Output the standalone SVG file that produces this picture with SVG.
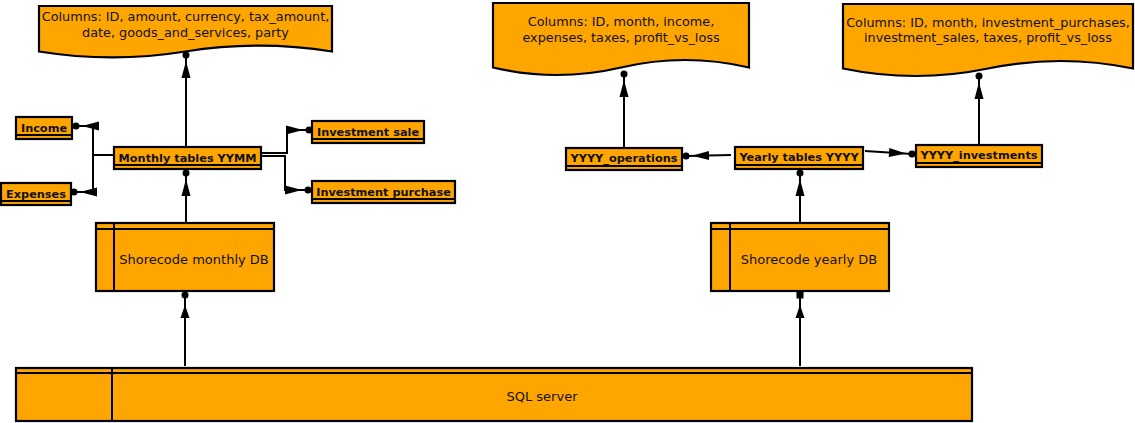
<svg xmlns="http://www.w3.org/2000/svg" width="1135" height="423" viewBox="0 0 1135 423">
<defs>
<style>
.box{fill:#FFA500;stroke:#000;stroke-width:2.2}
.ln{fill:none;stroke:#000;stroke-width:2}
.t{font-family:"DejaVu Sans","Liberation Sans",sans-serif;fill:#111;text-anchor:middle}
.doc{font-size:12.8px}
.ent{font-size:11.3px;font-weight:bold}
.db{font-size:13px}
.c{fill:none;stroke:#000;stroke-width:2}
</style>
<marker id="ad" viewBox="-30 -6 34 12" markerWidth="34" markerHeight="12" refX="0" refY="0" markerUnits="userSpaceOnUse" orient="auto" overflow="visible">
<circle cx="0" cy="0" r="3.5" fill="#000"/>
<polygon points="-6,0 -23,-4.5 -23,4.5" fill="#000"/>
</marker>
<marker id="ad2" viewBox="-30 -6 34 12" markerWidth="34" markerHeight="12" refX="0" refY="0" markerUnits="userSpaceOnUse" orient="auto" overflow="visible">
<circle cx="0" cy="0" r="3.5" fill="#000"/>
<polygon points="-10,0 -23,-4.5 -23,4.5" fill="#000"/>
</marker>
<marker id="as" viewBox="-30 -6 34 12" markerWidth="34" markerHeight="12" refX="0" refY="0" markerUnits="userSpaceOnUse" orient="auto" overflow="visible">
<rect x="-3.5" y="-3.5" width="7" height="7" fill="#000"/>
<polygon points="-10,0 -23,-4.5 -23,4.5" fill="#000"/>
</marker>
</defs>
<rect width="1135" height="423" fill="#fff"/>

<g id="connectors">
<path class="c" d="M186,147 V55" marker-end="url(#ad)"/>
<path class="c" d="M186,223 V173" marker-end="url(#ad)"/>
<path class="c" d="M185,366 V295" marker-end="url(#ad2)"/>
<path class="c" d="M114,155 H93 V126 H76" marker-end="url(#ad)"/>
<path class="c" d="M114,155 H93 V192 H74" marker-end="url(#ad)"/>
<path class="c" d="M261,153 H287 V130 H309" marker-end="url(#ad)"/>
<path class="c" d="M261,156 H285 V190 H308" marker-end="url(#ad)"/>
<path class="c" d="M624,148 V74" marker-end="url(#ad)"/>
<path class="c" d="M731,155 L686,156" marker-end="url(#ad)"/>
<path class="c" d="M865,151 L912,154" marker-end="url(#ad)"/>
<path class="c" d="M979,145 V76" marker-end="url(#ad)"/>
<path class="c" d="M800,223 V173" marker-end="url(#ad)"/>
<path class="c" d="M800,366 V295" marker-end="url(#as)"/>
</g>

<g id="doc-monthly-columns">
<path class="box" d="M39,6 H332 V51.5 Q259,39.8 185.5,51.5 Q112,63.2 39,51.5 Z"/>
<text class="t doc" x="185.5" y="21">Columns: ID, amount, currency, tax_amount,</text>
<text class="t doc" x="185.5" y="37">date, goods_and_services, party</text>
</g>

<g id="doc-operations-columns">
<path class="box" d="M493,3 H749 V67.5 Q685,52.5 621,67.5 Q557,82.5 493,67.5 Z"/>
<text class="t doc" x="621" y="26">Columns: ID, month, income,</text>
<text class="t doc" x="621" y="42">expenses, taxes, profit_vs_loss</text>
</g>

<g id="doc-investments-columns">
<path class="box" d="M843,4 H1133 V68.5 Q1060.5,53.5 988,68.5 Q915.5,83.5 843,68.5 Z"/>
<text class="t doc" x="988" y="27">Columns: ID, month, investment_purchases,</text>
<text class="t doc" x="988" y="42">investment_sales, taxes, profit_vs_loss</text>
</g>

<g id="income">
<rect class="box" x="16" y="117" width="56" height="22"/>
<line class="ln" x1="16" y1="135" x2="72" y2="135"/>
<text class="t ent" x="44" y="131.5">Income</text>
</g>

<g id="expenses">
<rect class="box" x="1" y="183" width="70" height="22"/>
<line class="ln" x1="1" y1="201" x2="71" y2="201"/>
<text class="t ent" x="36" y="197.5">Expenses</text>
</g>

<g id="monthly-tables">
<rect class="box" x="114" y="147" width="147" height="22"/>
<line class="ln" x1="114" y1="165" x2="261" y2="165"/>
<text class="t ent" x="187.5" y="161.5">Monthly tables YYMM</text>
</g>

<g id="investment-sale">
<rect class="box" x="312" y="121" width="112" height="22"/>
<line class="ln" x1="312" y1="139" x2="424" y2="139"/>
<text class="t ent" x="368" y="135.5">Investment sale</text>
</g>

<g id="investment-purchase">
<rect class="box" x="312" y="181" width="143" height="22"/>
<line class="ln" x1="312" y1="199" x2="455" y2="199"/>
<text class="t ent" x="383.5" y="195.5">Investment purchase</text>
</g>

<g id="yyyy-operations">
<rect class="box" x="566" y="148" width="116" height="22"/>
<line class="ln" x1="566" y1="166" x2="682" y2="166"/>
<text class="t ent" x="624" y="162">YYYY_operations</text>
</g>

<g id="yearly-tables">
<rect class="box" x="735" y="147" width="128" height="22"/>
<line class="ln" x1="735" y1="165" x2="863" y2="165"/>
<text class="t ent" x="799" y="161">Yearly tables YYYY</text>
</g>

<g id="yyyy-investments">
<rect class="box" x="916" y="145" width="126" height="22"/>
<line class="ln" x1="916" y1="163" x2="1042" y2="163"/>
<text class="t ent" x="979" y="159">YYYY_investments</text>
</g>

<g id="shorecode-monthly-db">
<rect class="box" x="96" y="223" width="178" height="68"/>
<line class="ln" x1="96" y1="229" x2="274" y2="229"/>
<line class="ln" x1="114" y1="223" x2="114" y2="291"/>
<text class="t db" x="194" y="264">Shorecode monthly DB</text>
</g>

<g id="shorecode-yearly-db">
<rect class="box" x="711" y="223" width="178" height="68"/>
<line class="ln" x1="711" y1="229" x2="889" y2="229"/>
<line class="ln" x1="730" y1="223" x2="730" y2="291"/>
<text class="t db" x="809" y="264">Shorecode yearly DB</text>
</g>

<g id="sql-server">
<rect class="box" x="16" y="368" width="956" height="53"/>
<line class="ln" x1="16" y1="373" x2="972" y2="373"/>
<line class="ln" x1="112" y1="368" x2="112" y2="421"/>
<text class="t db" x="542" y="401">SQL server</text>
</g>
</svg>
